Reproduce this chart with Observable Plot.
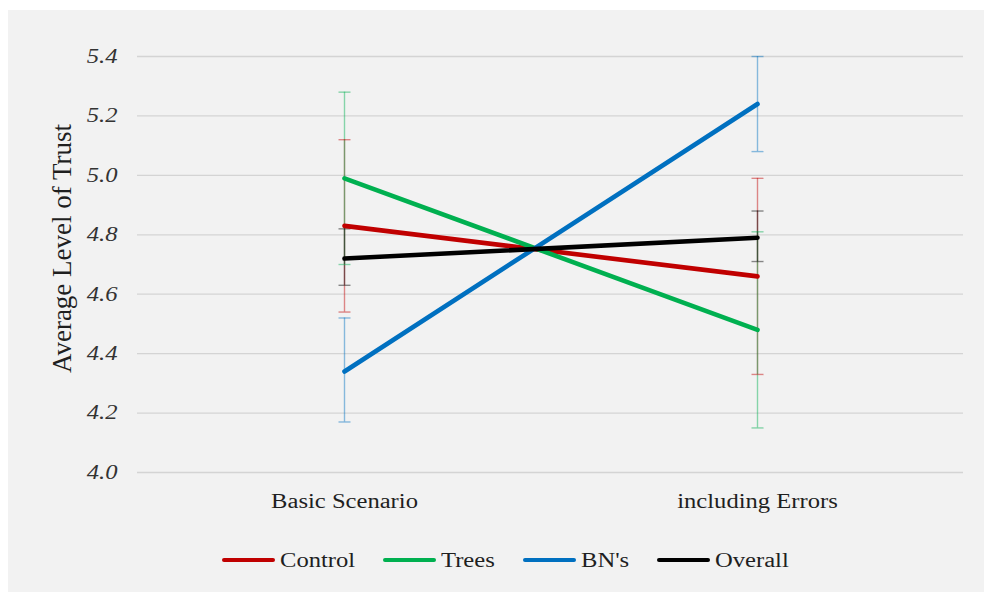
<!DOCTYPE html>
<html>
<head>
<meta charset="utf-8">
<script src="https://cdn.jsdelivr.net/npm/d3@7"></script>
<script src="https://cdn.jsdelivr.net/npm/@observablehq/plot@0.6"></script>
<style>
  html, body { margin: 0; padding: 0; background: #ffffff; }
  #chart { position: absolute; left: 8px; top: 10px; width: 976px; height: 582px; background: #f2f2f2; overflow: hidden; }
  #chart svg { position: absolute; left: 0; top: 0; }
  #legend { position: absolute; left: 214px; top: 537px; height: 26px; display: flex; align-items: center;
            font-family: "Liberation Serif", "Times New Roman", serif; font-size: 20px; color: #1f1f1f; white-space: nowrap; }
  #legend .item { display: flex; align-items: center; margin-right: 28px; }
  #legend .sw { display: inline-block; width: 53px; height: 4px; border-radius: 2px; margin-right: 5px; }
  #legend .lbl { display: inline-block; overflow: visible; }
  #legend .lbl span { display: inline-block; transform-origin: 0 50%; }
</style>
</head>
<body>
<div id="chart"><div id="legend"></div></div>
<script>
// ---- data ----
const categories = ["Basic Scenario", "including Errors"];
const seriesNames = ["Control", "Trees", "BN's", "Overall"];
const seriesColors = ["#c00000", "#00b050", "#0070c0", "#000000"];
const controlMean = [4.83, 4.66];
const controlLow  = [4.54, 4.33];
const controlHigh = [5.12, 4.99];
const treesMean = [4.99, 4.48];
const treesLow  = [4.70, 4.15];
const treesHigh = [5.28, 4.81];
const bnsMean = [4.34, 5.24];
const bnsLow  = [4.17, 5.08];
const bnsHigh = [4.52, 5.40];
const overallMean = [4.72, 4.79];
const overallLow  = [4.63, 4.71];
const overallHigh = [4.82, 4.88];
const yTicks = [4.0, 4.2, 4.4, 4.6, 4.8, 5.0, 5.2, 5.4];
const yTitle = "Average Level of Trust";

const STRETCH = 1.23; // the reference text is horizontally widened

// ---- build table ----
const means = [controlMean, treesMean, bnsMean, overallMean];
const lows = [controlLow, treesLow, bnsLow, overallLow];
const highs = [controlHigh, treesHigh, bnsHigh, overallHigh];
const rows = [];
seriesNames.forEach((s, si) => {
  categories.forEach((c, ci) => {
    rows.push({series: s, cat: c, value: means[si][ci], lo: lows[si][ci], hi: highs[si][ci]});
  });
});

const capSymbol = {
  draw(ctx) { ctx.moveTo(-6, 0); ctx.lineTo(6, 0); }
};

const plot = Plot.plot({
  width: 976,
  height: 510,
  marginLeft: 129,
  marginRight: 21,
  marginTop: 46,
  marginBottom: 48,
  style: {fontFamily: "'Liberation Serif', 'Times New Roman', serif", background: "transparent", color: "#333333", overflow: "visible"},
  x: {type: "point", domain: categories, padding: 0.5, label: null},
  y: {domain: [4.0, 5.4], label: null},
  color: {domain: seriesNames, range: seriesColors},
  marks: [
    Plot.gridY(yTicks, {stroke: "#d4d4d4", strokeOpacity: 1, strokeWidth: 1.3}),
    Plot.axisY({ticks: yTicks, tickFormat: d3.format(".1f"), tickSize: 0, tickPadding: 20, fontSize: 20, fontStyle: "italic", label: null}),
    Plot.axisX({tickSize: 0, tickPadding: 21, fontSize: 20, label: null, fill: "#1f1f1f"}),
    Plot.ruleX(rows, {x: "cat", y1: "lo", y2: "hi", stroke: "series", strokeOpacity: 0.45, strokeWidth: 1.4}),
    Plot.dot(rows, {x: "cat", y: "lo", symbol: capSymbol, stroke: "series", strokeOpacity: 0.45, strokeWidth: 1.4, fill: "none", r: 6}),
    Plot.dot(rows, {x: "cat", y: "hi", symbol: capSymbol, stroke: "series", strokeOpacity: 0.45, strokeWidth: 1.4, fill: "none", r: 6}),
    Plot.line(rows, {x: "cat", y: "value", z: "series", stroke: "series", strokeWidth: 4.6, strokeLinecap: "round"}),
    Plot.text([yTitle], {text: d => d, frameAnchor: "left", textAnchor: "middle", lineAnchor: "middle", dx: -75, dy: -16, rotate: -90, fontSize: 27, fill: "#1f1f1f"})
  ]
});
document.getElementById("chart").prepend(plot);

// widen the tick labels horizontally (reference text is stretched)
plot.querySelectorAll('[aria-label="x-axis tick label"] text, [aria-label="y-axis tick label"] text').forEach(t => {
  t.style.fontStyle = t.closest('[aria-label="y-axis tick label"]') ? "italic" : "normal";
  const w = t.getComputedTextLength();
  if (w > 0) {
    t.setAttribute("textLength", (w * STRETCH).toFixed(2));
    t.setAttribute("lengthAdjust", "spacingAndGlyphs");
  }
});

// ---- legend ----
const legend = document.getElementById("legend");
seriesNames.forEach((s, i) => {
  const item = document.createElement("div");
  item.className = "item";
  const sw = document.createElement("span");
  sw.className = "sw";
  sw.style.background = seriesColors[i];
  const lbl = document.createElement("span");
  lbl.className = "lbl";
  const inner = document.createElement("span");
  inner.textContent = s;
  lbl.appendChild(inner);
  item.appendChild(sw);
  item.appendChild(lbl);
  legend.appendChild(item);
  const w = inner.getBoundingClientRect().width;
  lbl.style.width = (w * STRETCH) + "px";
  inner.style.transform = `scaleX(${STRETCH})`;
});
</script>
</body>
</html>
